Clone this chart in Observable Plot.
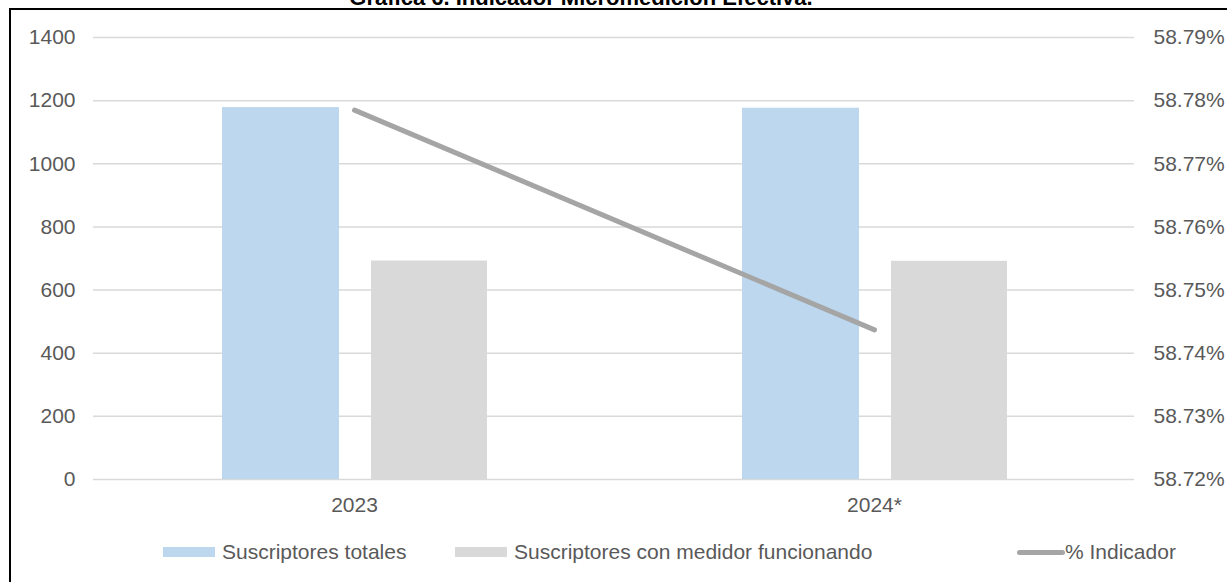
<!DOCTYPE html>
<html>
<head>
<meta charset="utf-8">
<script src="https://cdn.jsdelivr.net/npm/d3@7"></script>
<script src="https://cdn.jsdelivr.net/npm/@observablehq/plot@0.6"></script>
<style>
  html, body { margin: 0; padding: 0; background: #fff; }
  #wrap { position: relative; width: 1227px; height: 582px; overflow: hidden; background: #fff;
          font-family: "Liberation Sans", Arial, sans-serif; }
  #frame { position: absolute; left: 9px; top: 8px; width: 1240px; height: 600px; border: 2px solid #000; box-sizing: border-box; }
  #title { position: absolute; left: 0; width: 1162px; top: -13px; text-align: center; font-weight: bold;
           font-size: 22px; line-height: 22px; color: #000; }
  #chart { position: absolute; left: 0; top: 0; }
  .leg { position: absolute; top: 540px; height: 24px; display: flex; align-items: center; font-size: 21px; color: #595959; white-space: nowrap; }
  .sw { display: inline-block; width: 52px; height: 10px; margin-right: 7px; }
  .ln { display: inline-block; width: 48px; height: 5px; border-radius: 3px; background: #a5a5a5; margin-right: 0; }
</style>
</head>
<body>
<div id="wrap">
  <div id="frame"></div>
  <div id="title">Gráfica 6. Indicador Micromedición Efectiva.</div>
  <div id="chart"></div>
</div>
<script>
const years = ["2023", "2024*"];
const suscriptoresTotales = [1178, 1176];
const suscriptoresMedidor = [692, 691];
const indicadorPct = [58.7785, 58.7437];
const leftTicks = [0, 200, 400, 600, 800, 1000, 1200, 1400];
const rightTickLabels = ["58.72%", "58.73%", "58.74%", "58.75%", "58.76%", "58.77%", "58.78%", "58.79%"];
const rightDomain = [58.72, 58.79];
const leftDomain = [0, 1400];
const seriesNames = ["Suscriptores totales", "Suscriptores con medidor funcionando", "% Indicador"];
const colors = ["#bdd7ee", "#d9d9d9", "#a5a5a5"];

const toLeft = v => (v - rightDomain[0]) / (rightDomain[1] - rightDomain[0]) * (leftDomain[1] - leftDomain[0]) + leftDomain[0];

const rows = years.map((y, i) => ({
  year: y,
  totales: suscriptoresTotales[i],
  medidor: suscriptoresMedidor[i],
  ind: toLeft(indicadorPct[i])
}));

const chart = Plot.plot({
  width: 1227,
  height: 525,
  marginLeft: 93,
  marginRight: 93,
  marginTop: 37,
  marginBottom: 46,
  style: { fontFamily: "'Liberation Sans', Arial, sans-serif", fontSize: "21px", color: "#595959", background: "transparent" },
  x: { type: "band", domain: years, padding: 0 },
  y: { domain: leftDomain },
  marks: [
    Plot.gridY(leftTicks, { stroke: "#d9d9d9", strokeOpacity: 1, strokeWidth: 1.5 }),
    Plot.barY(rows, { x: "year", y: "totales", fill: colors[0], insetLeft: 128, insetRight: 275 }),
    Plot.barY(rows, { x: "year", y: "medidor", fill: colors[1], insetLeft: 277, insetRight: 127 }),
    Plot.line(rows, { x: "year", y: "ind", stroke: colors[2], strokeWidth: 5, strokeLinecap: "round" }),
    Plot.axisY(leftTicks, { anchor: "left", tickSize: 0, tickPadding: 18, label: null, tickFormat: d => String(d) }),
    Plot.axisY(leftTicks, { anchor: "right", tickSize: 0, tickPadding: 19, label: null,
      tickFormat: d => rightTickLabels[leftTicks.indexOf(d)] }),
    Plot.axisX({ tickSize: 0, tickPadding: 18, label: null })
  ]
});
document.getElementById("chart").appendChild(chart);

const legendLeft = [163, 455, 1017];
const wrap = document.getElementById("wrap");
seriesNames.forEach((name, i) => {
  const item = document.createElement("div");
  item.className = "leg";
  item.style.left = legendLeft[i] + "px";
  const sw = document.createElement("span");
  if (i < 2) { sw.className = "sw"; sw.style.background = colors[i]; }
  else { sw.className = "ln"; }
  const t = document.createElement("span");
  t.textContent = name;
  item.appendChild(sw);
  item.appendChild(t);
  wrap.appendChild(item);
});
</script>
</body>
</html>
